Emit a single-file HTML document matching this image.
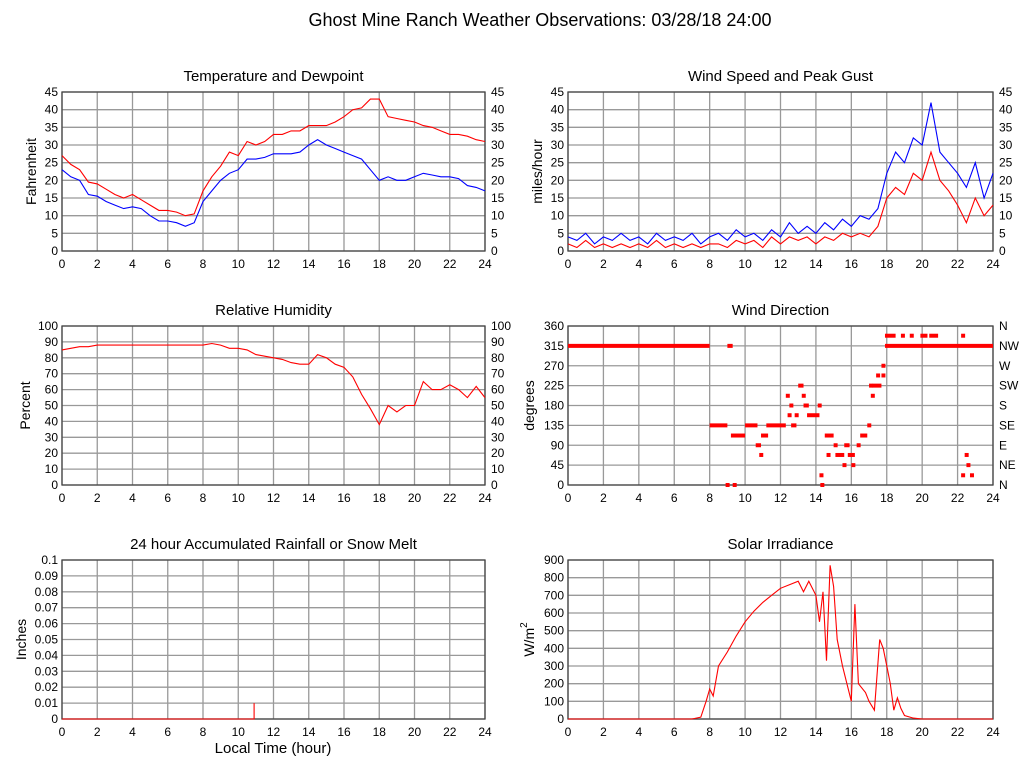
<!DOCTYPE html>
<html><head><meta charset="utf-8"><style>
body{margin:0;background:#fff}
svg{display:block;font-family:"Liberation Sans",sans-serif}
</style></head><body>
<svg id="c" width="1027" height="772" xmlns="http://www.w3.org/2000/svg">
<text x="540" y="26" font-size="18" text-anchor="middle">Ghost Mine Ranch Weather Observations: 03/28/18 24:00</text>
</svg>
<script>
// ---- data ----
const halfHours = [0,0.5,1,1.5,2,2.5,3,3.5,4,4.5,5,5.5,6,6.5,7,7.5,8,8.5,9,9.5,10,10.5,11,11.5,12,12.5,13,13.5,14,14.5,15,15.5,16,16.5,17,17.5,18,18.5,19,19.5,20,20.5,21,21.5,22,22.5,23,23.5,24];
const tempF = [27,24.5,23,19.5,19,17.5,16,15,16,14.5,13,11.5,11.5,11,10,10.5,17,21,24,28,27,31,30,31,33,33,34,34,35.5,35.5,35.5,36.5,38,40,40.5,43,43,38,37.5,37,36.5,35.5,35,34,33,33,32.5,31.5,31];
const dewF = [23,21,20,16,15.5,14,13,12,12.5,12,10,8.5,8.5,8,7,8,14,17,20,22,23,26,26,26.5,27.5,27.5,27.5,28,30,31.5,30,29,28,27,26,23,20,21,20,20,21,22,21.5,21,21,20.5,18.5,18,17];
const gustMph = [4,3,5,2,4,3,5,3,4,2,5,3,4,3,5,2,4,5,3,6,4,5,3,6,4,8,5,7,5,8,6,9,7,10,9,12,22,28,25,32,30,42,28,25,22,18,25,15,22];
const speedMph = [2,1,3,1,2,1,2,1,2,1,3,1,2,1,2,1,2,2,1,3,2,3,1,4,2,4,3,4,2,4,3,5,4,5,4,7,15,18,16,22,20,28,20,17,13,8,15,10,13];
const rhPct = [85,86,87,87,88,88,88,88,88,88,88,88,88,88,88,88,88,89,88,86,86,85,82,81,80,79,77,76,76,82,80,76,74,68,57,48,38,50,46,50,50,65,60,60,63,60,55,62,55];
const dirStart = [0,8,9,8.9,9.3,9.2,10,10.6,10.8,10.9,11.2,12.3,12.4,12.5,12.6,12.8,13,13.2,13.3,13.5,14.1,14.2,14.25,14.5,14.6,15,15.1,15.5,15.6,15.8,16,16.3,16.5,16.9,17,17.1,17.2,17.4,17.7,17.7,17.9,17.9,18.8,19.3,19.9,20.4,22.2,22.2,22.4,22.5,22.7];
const dirEnd = [8,9,9.3,9.0,9.35,10,10.7,10.9,11,11.3,12.3,12.4,12.6,12.7,12.9,13,13.3,13.4,13.6,14.2,14.3,14.3,14.3,15,14.7,15.2,15.6,15.7,15.9,16.2,16.1,16.4,16.9,17,17.1,17.3,17.7,17.5,17.8,17.8,18.5,24,19,19.5,20.3,20.9,22.4,22.4,22.5,22.6,22.8];
const dirDeg = [315,135,315,0,0,112,135,90,68,112,135,202,158,180,135,158,225,202,180,158,180,22,0,112,68,90,68,45,90,68,45,90,112,135,225,202,225,248,270,248,338,315,338,338,338,338,338,22,68,45,22];
const rainTimes = [0,10.9,10.9];
const rainIn = [0,0,0.01];
const solarTimes = [0,7,7.5,7.8,8,8.2,8.5,9,9.5,10,10.5,11,11.5,12,12.5,13,13.3,13.6,14,14.2,14.4,14.6,14.8,15,15.2,15.5,15.8,16,16.2,16.4,16.8,17,17.3,17.6,17.8,18,18.2,18.4,18.6,18.8,19,19.5,20,24];
const solarW = [0,0,10,100,170,130,300,380,470,550,610,660,700,740,760,780,720,780,700,550,720,330,870,750,450,300,180,100,650,200,150,100,50,450,400,300,200,50,120,60,20,5,0,0];
const xTicks = [0,2,4,6,8,10,12,14,16,18,20,22,24];
const dirLabels = ['N','NE','E','SE','S','SW','W','NW','N'];

const svg = document.getElementById('c');
const NS = 'http://www.w3.org/2000/svg';
function mk(tag, attrs, parent){const e=document.createElementNS(NS,tag);for(const k in attrs)e.setAttribute(k,attrs[k]);(parent||svg).appendChild(e);return e;}

function panel(o){
  const g = mk('g',{});
  
  
  const L=o.x0,R=o.x1,T=o.y0,B=o.y1;
  const sx = t => L + (t/24)*(R-L);
  const sy = v => B - (v-o.ymin)/(o.ymax-o.ymin)*(B-T);
  const t = mk('text',{x:(L+R)/2,y:T-11,'font-size':15,'text-anchor':'middle'},g);
  t.textContent=o.title;
  
  
  for(const xt of xTicks){
    const l=mk('line',{x1:sx(xt),x2:sx(xt),y1:T,y2:B,stroke:'#999','stroke-width':1.3},g);
    
    
    const tx=mk('text',{x:sx(xt),y:B+17,'font-size':12,'text-anchor':'middle'},g);
    tx.textContent=xt;
    
    
  }
  o.yTicks.forEach((yv,i)=>{
    const l=mk('line',{x1:L,x2:R,y1:sy(yv),y2:sy(yv),stroke:'#999','stroke-width':1.3},g);
    
    
    const ty=mk('text',{x:L-4,y:sy(yv)+4,'font-size':12,'text-anchor':'end'},g);
    ty.textContent=o.yLabel?o.yLabel(yv):yv;
    
    
    if(o.right){
      const tr=mk('text',{x:R+6,y:sy(yv)+4,'font-size':12},g);
      tr.textContent=o.right(yv,i);
      
      
    }
  });
  const fr=mk('rect',{x:L,y:T,width:R-L,height:B-T,fill:'none',stroke:'#444','stroke-width':1.3},g);
  
  
  const yt=mk('text',{x:0,y:0,'font-size':14,'text-anchor':'middle',transform:`translate(${o.ytx},${(T+B)/2}) rotate(-90)`},g);
  yt.innerHTML=o.ytitle;
  
  
  return {g,sx,sy};
}
function line(p,ts,vs,color,name){
  const d=ts.map((t,i)=>(i?'L':'M')+p.sx(t).toFixed(1)+' '+p.sy(vs[i]).toFixed(1)).join(' ');
  const e=mk('path',{d,fill:'none',stroke:color,'stroke-width':1.1},p.g);
  
  
}
const LX0=62,LX1=485,RX0=568,RX1=993;
const p1=panel({name:'temperature-panel',title:'Temperature and Dewpoint',x0:LX0,x1:LX1,y0:92,y1:251,ymin:0,ymax:45,yTicks:[0,5,10,15,20,25,30,35,40,45],right:v=>v,ytitle:'Fahrenheit',ytx:36});
line(p1,halfHours,dewF,'#0000ff','dewpoint-line');
line(p1,halfHours,tempF,'#ff0000','temperature-line');
const p2=panel({name:'wind-speed-panel',title:'Wind Speed and Peak Gust',x0:RX0,x1:RX1,y0:92,y1:251,ymin:0,ymax:45,yTicks:[0,5,10,15,20,25,30,35,40,45],right:v=>v,ytitle:'miles/hour',ytx:542});
line(p2,halfHours,gustMph,'#0000ff','peak-gust-line');
line(p2,halfHours,speedMph,'#ff0000','wind-speed-line');
const p3=panel({name:'humidity-panel',title:'Relative Humidity',x0:LX0,x1:LX1,y0:326,y1:485,ymin:0,ymax:100,yTicks:[0,10,20,30,40,50,60,70,80,90,100],right:v=>v,ytitle:'Percent',ytx:30});
line(p3,halfHours,rhPct,'#ff0000','humidity-line');
const p4=panel({name:'wind-direction-panel',title:'Wind Direction',x0:RX0,x1:RX1,y0:326,y1:485,ymin:0,ymax:360,yTicks:[0,45,90,135,180,225,270,315,360],right:(v,i)=>dirLabels[i],ytitle:'degrees',ytx:534});
dirDeg.forEach((d,i)=>{
  const e=mk('line',{x1:p4.sx(dirStart[i]),x2:Math.max(p4.sx(dirEnd[i]),p4.sx(dirStart[i])+4),y1:p4.sy(d),y2:p4.sy(d),stroke:'#ff0000','stroke-width':4},p4.g);
  
  
});
const p5=panel({name:'rainfall-panel',title:'24 hour Accumulated Rainfall or Snow Melt',x0:LX0,x1:LX1,y0:560,y1:719,ymin:0,ymax:0.1,yTicks:[0,0.01,0.02,0.03,0.04,0.05,0.06,0.07,0.08,0.09,0.1],yLabel:v=>String(+v.toFixed(2)),ytitle:'Inches',ytx:26});
line(p5,rainTimes,rainIn,'#ff0000','rainfall-line');
const xt=mk('text',{x:273,y:753,'font-size':15,'text-anchor':'middle'});
xt.textContent='Local Time (hour)';


const p6=panel({name:'solar-panel',title:'Solar Irradiance',x0:RX0,x1:RX1,y0:560,y1:719,ymin:0,ymax:900,yTicks:[0,100,200,300,400,500,600,700,800,900],ytitle:'W/m<tspan font-size="10" dy="-7">2</tspan>',ytx:534});
line(p6,solarTimes,solarW,'#ff0000','solar-line');
</script>
</body></html>
